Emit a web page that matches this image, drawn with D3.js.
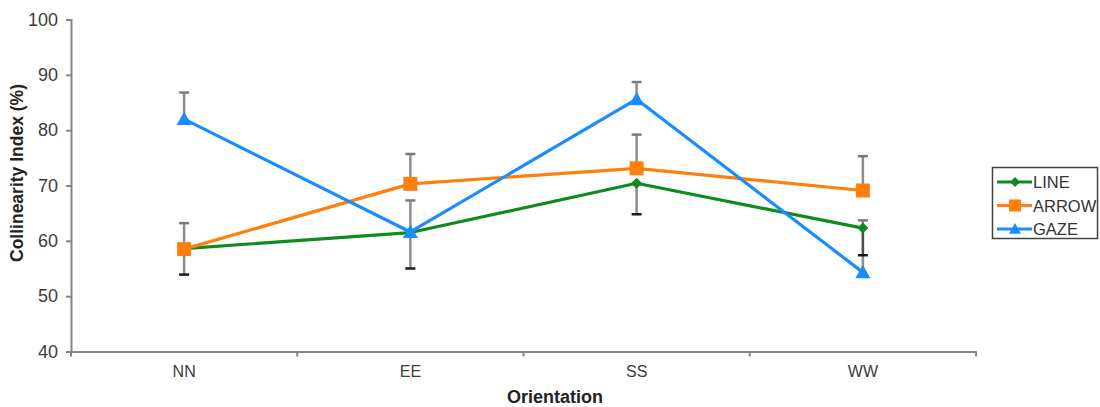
<!DOCTYPE html>
<html>
<head>
<meta charset="utf-8">
<script src="https://cdn.jsdelivr.net/npm/d3@7"></script>
<style>
  html, body { margin: 0; padding: 0; background: #fff; }
  svg { display: block; font-family: "Liberation Sans", Arial, sans-serif; }
</style>
</head>
<body>
<svg id="chart" width="1100" height="407"></svg>
<script>
// Orientation categories and y-axis ticks
const categories = ["NN", "EE", "SS", "WW"];
const yTicks = [40, 50, 60, 70, 80, 90, 100];

// Mean collinearity index (%) per series
const lineValues  = [58.6, 61.5, 70.4, 62.3];
const arrowValues = [58.5, 70.3, 73.1, 69.1];
const gazeValues  = [82.0, 61.6, 85.6, 54.3];

// One-sided error bars: positive = upward, negative = downward
const lineErr  = [-4.7, -6.5, -5.6, -4.9];
const arrowErr = [4.7, 5.4, 6.1, 6.2];
const gazeErr  = [4.8, 5.7, 3.1, 9.4];

const seriesNames = ["LINE", "ARROW", "GAZE"];

const series = [
  { name: seriesNames[0], values: lineValues,  err: lineErr,  color: "#0f8a1e", marker: "diamond",  capColor: "#1a1a1a" },
  { name: seriesNames[1], values: arrowValues, err: arrowErr, color: "#ff7f0a", marker: "square",   capColor: "#7a7a7a" },
  { name: seriesNames[2], values: gazeValues,  err: gazeErr,  color: "#1a8cff", marker: "triangle", capColor: "#7a7a7a" }
];

const svg = d3.select("#chart");

const x = d3.scaleBand().domain(categories).range([71, 976]).padding(0);
const y = d3.scaleLinear().domain([40, 100]).range([351.5, 19.5]);
const cx = d => x(d) + x.bandwidth() / 2;

const axisColor = "#858585";

// Y axis
const yAxis = svg.append("g").attr("transform", "translate(71,0)")
  .call(d3.axisLeft(y).tickValues(yTicks).tickSize(5).tickPadding(8));
yAxis.select(".domain").attr("stroke", axisColor).attr("stroke-width", 2);
yAxis.selectAll(".tick line").attr("stroke", axisColor).attr("stroke-width", 2);
yAxis.selectAll(".tick text").attr("fill", "#3c3c3c").style("font-size", "18px")
  .attr("font-family", "Liberation Sans, Arial, sans-serif");

// X axis: labels at band centres, tick marks at band boundaries
const xAxis = svg.append("g").attr("transform", "translate(0,351.5)")
  .call(d3.axisBottom(x).tickSize(0).tickPadding(14));
xAxis.select(".domain").attr("stroke", axisColor).attr("stroke-width", 2);
xAxis.selectAll(".tick text").attr("fill", "#3c3c3c").style("font-size", "16px")
  .attr("font-family", "Liberation Sans, Arial, sans-serif");
const bounds = d3.range(categories.length + 1).map(i => x.range()[0] + i * x.step());
xAxis.selectAll(".bound").data(bounds).enter().append("line")
  .attr("class", "bound")
  .attr("x1", d => d).attr("x2", d => d).attr("y1", 0).attr("y2", 5)
  .attr("stroke", axisColor).attr("stroke-width", 2);

// Axis titles
svg.append("text")
  .attr("transform", "translate(23,173) rotate(-90)")
  .attr("text-anchor", "middle")
  .attr("font-weight", "bold").attr("font-size", "17.5px").attr("fill", "#222")
  .text("Collinearity Index (%)");
svg.append("text")
  .attr("x", 555).attr("y", 403)
  .attr("text-anchor", "middle")
  .attr("font-weight", "bold").attr("font-size", "18px").attr("fill", "#222")
  .text("Orientation");

// Error bars (drawn beneath lines and markers)
const errG = svg.append("g");
series.forEach(s => {
  categories.forEach((c, i) => {
    const v = s.values[i], e = s.err[i];
    const px = cx(c), y0 = y(v), y1 = y(v + e);
    errG.append("line")
      .attr("x1", px).attr("x2", px).attr("y1", y0).attr("y2", y1)
      .attr("stroke", "#000").attr("stroke-opacity", 0.45).attr("stroke-width", 2.5);
    errG.append("line")
      .attr("x1", px - 5).attr("x2", px + 5).attr("y1", y1).attr("y2", y1)
      .attr("stroke", s.capColor).attr("stroke-width", 2.5);
  });
});

// Marker shapes
function markerPath(type, size) {
  const h = size / 2;
  if (type === "square") return `M${-h},${-h}H${h}V${h}H${-h}Z`;
  if (type === "diamond") return `M0,${-h}L${h},0L0,${h}L${-h},0Z`;
  return `M0,${-h}L${h},${h * 0.8}L${-h},${h * 0.8}Z`;
}
const markerSize = { square: 14, diamond: 11, triangle: 15 };

// Series lines
const lineGen = d3.line().x((d, i) => cx(categories[i])).y(d => y(d));
series.forEach(s => {
  svg.append("path")
    .attr("d", lineGen(s.values))
    .attr("fill", "none").attr("stroke", s.color).attr("stroke-width", 3.2)
    .attr("stroke-linejoin", "round");
  svg.append("g").selectAll("path").data(s.values).enter().append("path")
    .attr("transform", (d, i) => `translate(${cx(categories[i])},${y(d)})`)
    .attr("d", markerPath(s.marker, markerSize[s.marker]))
    .attr("fill", s.color);
});

// Legend
const legend = svg.append("g");
legend.append("rect")
  .attr("x", 992.5).attr("y", 167.5).attr("width", 105).attr("height", 71)
  .attr("fill", "#fff").attr("stroke", "#444").attr("stroke-width", 1.5);
series.forEach((s, i) => {
  const ly = 182 + i * 23.5;
  legend.append("line")
    .attr("x1", 997).attr("x2", 1032).attr("y1", ly).attr("y2", ly)
    .attr("stroke", s.color).attr("stroke-width", 3.2);
  const sz = { square: 12, diamond: 10, triangle: 12 }[s.marker];
  legend.append("path")
    .attr("transform", `translate(1015,${ly})`)
    .attr("d", markerPath(s.marker, sz))
    .attr("fill", s.color);
  legend.append("text")
    .attr("x", 1033).attr("y", ly + 6)
    .attr("font-size", "16.5px").attr("fill", "#333")
    .text(s.name);
});
</script>
</body>
</html>
